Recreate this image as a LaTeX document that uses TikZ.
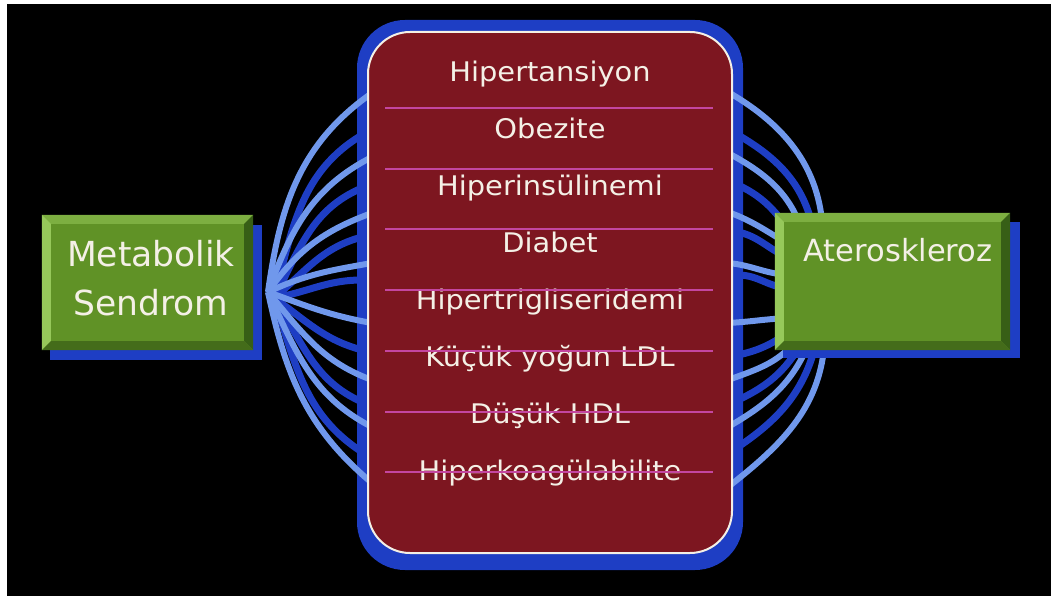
\documentclass[tikz,border=0pt]{standalone}
\usepackage{fontspec}
\newfontfamily\vf{DejaVu Sans}
\newfontfamily\vfs[FakeStretch=1.07]{DejaVu Sans}
\definecolor{frameblue}{RGB}{30,62,196}
\definecolor{lineblue}{RGB}{112,152,236}
\definecolor{maroonbox}{RGB}{125,22,32}
\definecolor{sepcol}{RGB}{196,70,160}
\definecolor{gbase}{RGB}{96,146,38}
\definecolor{gtop}{RGB}{125,175,65}
\definecolor{gleft}{RGB}{150,200,90}
\definecolor{gright}{RGB}{55,95,22}
\definecolor{gbot}{RGB}{68,108,26}
\definecolor{txt}{RGB}{244,240,230}
\tikzset{
  lightc/.style={draw=lineblue, line width=6pt},
  darkc/.style={draw=frameblue, line width=7pt},
  sepline/.style={draw=sepcol, line width=2.2pt},
  gbox/.style={rectangle, fill=gbase, inner sep=0pt},
  gshadow/.style={rectangle, fill=frameblue, inner sep=0pt},
  itemtxt/.style={text=txt, font=\vfs\fontsize{27}{30}\selectfont, anchor=base, inner sep=0pt},
  bigtxt/.style={text=txt, anchor=base, inner sep=0pt}
}
\begin{document}
\begin{tikzpicture}[x=1pt,y=1pt]
\useasboundingbox (0,0) rectangle (1060,598);
\fill[white] (0,0) rectangle (1060,598);
\fill[black] (7,2) rectangle (1051,594);

% central frame
\node[fill=frameblue, rounded corners=48pt, minimum width=386pt, minimum height=550pt, inner sep=0pt] (frame) at (550,303) {};

% fan origins
\coordinate (lo) at (268,306);
\coordinate (ldo) at (274,300);

% left dark connectors
\foreach \n/\y/\o/\i in {1/463/75/211, 2/410/62/203, 3/361/40/195, 4/318/10/180, 5/248/-35/165, 6/196/-57/156, 7/146/-72/147} {
  \coordinate (LD\n) at (362,\y);
  \draw[darkc] (ldo) to[out=\o,in=\i] (LD\n);
}
% right dark connectors
\foreach \n/\y/\o/\ex/\ey/\i in {1/463/-30/815/358/98, 2/413/-25/798/355/125, 3/366/-12/790/340/160, 4/323/0/790/310/180, 5/243/12/795/270/215, 6/198/25/806/263/242, 7/151/34/818/263/258} {
  \coordinate (RD\n) at (738,\y);
  \coordinate (AD\n) at (\ex,\ey);
  \draw[darkc] (RD\n) to[out=\o,in=\i] (AD\n);
}
% left light connectors
\foreach \n/\y/\o/\i in {1/505/82/215, 2/441/70/207, 3/385/55/200, 4/335/25/190, 5/275/-20/170, 6/218/-50/160, 7/171/-65/153, 8/115/-78/140} {
  \coordinate (L\n) at (372,\y);
  \draw[lightc] (lo) to[out=\o,in=\i] (L\n);
}
% right light connectors
\foreach \n/\y/\o/\ex/\ey/\i in {1/506/-30/823/358/90, 2/445/-28/805/358/105, 3/386/-20/790/353/150, 4/335/-5/790/323/178, 5/275/3/790/280/182, 6/218/20/800/263/235, 7/171/30/812/263/250, 8/111/38/825/263/268} {
  \coordinate (R\n) at (728,\y);
  \coordinate (A\n) at (\ex,\ey);
  \draw[lightc] (R\n) to[out=\o,in=\i] (A\n);
}

% maroon list box
\node[fill=maroonbox, draw=txt, line width=2pt, rounded corners=42pt, minimum width=364pt, minimum height=521pt, inner sep=0pt] (mid) at (550,305.5) {};

% item texts
\foreach \n/\y/\t in {1/516/Hipertansiyon, 2/459.1/Obezite, 3/402.2/Hiperinsülinemi, 4/345.3/Diabet, 5/288.4/Hipertrigliseridemi, 6/231.5/Küçük yoğun LDL, 7/174.6/Düşük HDL, 8/117.7/Hiperkoagülabilite} {
  \node[itemtxt] (item\n) at (550,\y) {\t};
}
% separators
\foreach \y in {490, 429, 369, 308, 247, 186, 126} {
  \draw[sepline] (385,\y) -- (713,\y);
}

% left green box
\node[gshadow, minimum width=212pt, minimum height=135pt] (msh) at (156,305.5) {};
\node[gbox, minimum width=211pt, minimum height=135pt] (ms) at (147.5,315.5) {};
\fill[gtop] (ms.north west) -- (ms.north east) -- ++(-9,-9) -- ([shift={(9,-9)}]ms.north west) -- cycle;
\fill[gleft] (ms.north west) -- ([shift={(9,-9)}]ms.north west) -- ([shift={(9,9)}]ms.south west) -- (ms.south west) -- cycle;
\fill[gright] (ms.north east) -- (ms.south east) -- ++(-9,9) -- ([shift={(-9,-9)}]ms.north east) -- cycle;
\fill[gbot] (ms.south west) -- ([shift={(9,9)}]ms.south west) -- ([shift={(-9,9)}]ms.south east) -- (ms.south east) -- cycle;

% right green box
\node[gshadow, minimum width=237pt, minimum height=136pt] (ash) at (901.5,308) {};
\node[gbox, minimum width=235pt, minimum height=137pt] (at) at (892.5,316.5) {};
\fill[gtop] (at.north west) -- (at.north east) -- ++(-9,-9) -- ([shift={(9,-9)}]at.north west) -- cycle;
\fill[gleft] (at.north west) -- ([shift={(9,-9)}]at.north west) -- ([shift={(9,9)}]at.south west) -- (at.south west) -- cycle;
\fill[gright] (at.north east) -- (at.south east) -- ++(-9,9) -- ([shift={(-9,-9)}]at.north east) -- cycle;
\fill[gbot] (at.south west) -- ([shift={(9,9)}]at.south west) -- ([shift={(-9,9)}]at.south east) -- (at.south east) -- cycle;

% box texts
\node[bigtxt, font=\vf\fontsize{34.5}{38}\selectfont] (mtxt1) at (151,331) {Metabolik};
\node[bigtxt, font=\vf\fontsize{34.5}{38}\selectfont] (mtxt2) at (151,283) {Sendrom};
\node[bigtxt, font=\vf\fontsize{30.5}{34}\selectfont] (atxt) at (898,337) {Ateroskleroz};
\end{tikzpicture}
\end{document}
